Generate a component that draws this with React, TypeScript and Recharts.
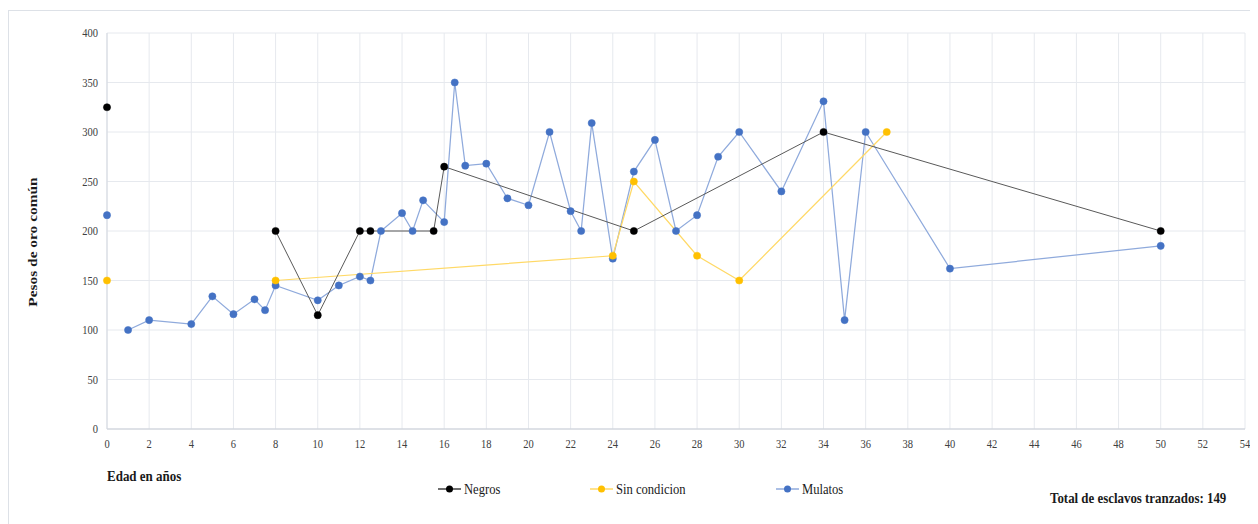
import React from "react";
import { LineChart, Line, XAxis, YAxis, CartesianGrid, Legend } from "recharts";

// Edad en años (x) y pesos de oro común (y); null marks a break in the line
const negros = [
  { edad: 0, pesos: 325 },
  { edad: 0, pesos: null },
  { edad: 8, pesos: 200 },
  { edad: 10, pesos: 115 },
  { edad: 12, pesos: 200 },
  { edad: 12.5, pesos: 200 },
  { edad: 15.5, pesos: 200 },
  { edad: 16, pesos: 265 },
  { edad: 25, pesos: 200 },
  { edad: 34, pesos: 300 },
  { edad: 50, pesos: 200 },
];

const sinCondicion = [
  { edad: 0, pesos: 150 },
  { edad: 0, pesos: null },
  { edad: 8, pesos: 150 },
  { edad: 24, pesos: 175 },
  { edad: 25, pesos: 250 },
  { edad: 28, pesos: 175 },
  { edad: 30, pesos: 150 },
  { edad: 37, pesos: 300 },
];

const mulatos = [
  { edad: 0, pesos: 216 },
  { edad: 0, pesos: null },
  { edad: 1, pesos: 100 },
  { edad: 2, pesos: 110 },
  { edad: 4, pesos: 106 },
  { edad: 5, pesos: 134 },
  { edad: 6, pesos: 116 },
  { edad: 7, pesos: 131 },
  { edad: 7.5, pesos: 120 },
  { edad: 8, pesos: 145 },
  { edad: 10, pesos: 130 },
  { edad: 11, pesos: 145 },
  { edad: 12, pesos: 154 },
  { edad: 12.5, pesos: 150 },
  { edad: 13, pesos: 200 },
  { edad: 14, pesos: 218 },
  { edad: 14.5, pesos: 200 },
  { edad: 15, pesos: 231 },
  { edad: 16, pesos: 209 },
  { edad: 16.5, pesos: 350 },
  { edad: 17, pesos: 266 },
  { edad: 18, pesos: 268 },
  { edad: 19, pesos: 233 },
  { edad: 20, pesos: 226 },
  { edad: 21, pesos: 300 },
  { edad: 22, pesos: 220 },
  { edad: 22.5, pesos: 200 },
  { edad: 23, pesos: 309 },
  { edad: 24, pesos: 172 },
  { edad: 25, pesos: 260 },
  { edad: 26, pesos: 292 },
  { edad: 27, pesos: 200 },
  { edad: 28, pesos: 216 },
  { edad: 29, pesos: 275 },
  { edad: 30, pesos: 300 },
  { edad: 32, pesos: 240 },
  { edad: 34, pesos: 331 },
  { edad: 35, pesos: 110 },
  { edad: 36, pesos: 300 },
  { edad: 40, pesos: 162 },
  { edad: 50, pesos: 185 },
];

const xTicks = [0, 2, 4, 6, 8, 10, 12, 14, 16, 18, 20, 22, 24, 26, 28, 30, 32, 34, 36, 38, 40, 42, 44, 46, 48, 50, 52, 54];
const yTicks = [0, 50, 100, 150, 200, 250, 300, 350, 400];

const xTitle = "Edad en años";
const yTitle = "Pesos de oro común";
const totalNote = "Total de esclavos tranzados: 149";

const SERIF = "Liberation Serif, Times New Roman, serif";
const STRETCH = 1.19;

const legendItems = [
  { name: "Negros", line: "#404040", dot: "#000000", x: 430 },
  { name: "Sin condicion", line: "#FFD966", dot: "#FFC000", x: 582 },
  { name: "Mulatos", line: "#8FAADC", dot: "#4472C4", x: 768 },
];

const LegendContent = () => (
  <svg width={1250} height={24} style={{ display: "block" }}>
    {legendItems.map((it) => (
      <g key={it.name}>
        <line x1={it.x} x2={it.x + 23} y1={12} y2={12} stroke={it.line} strokeWidth={1.5} />
        <circle cx={it.x + 11.5} cy={12} r={3.5} fill={it.dot} />
        <text
          transform={`translate(${it.x + 26},17) scale(1,${STRETCH})`}
          style={{ fontFamily: SERIF, fontSize: 12.6 }}
          fill="#1a1a1a"
        >
          {it.name}
        </text>
      </g>
    ))}
  </svg>
);

const AxisTick = (props: any) => {
  const { x, y, payload, textAnchor, verticalAnchor } = props;
  const dy = verticalAnchor === "start" ? 8 : 4;
  return (
    <text
      transform={`translate(${x},${y + dy}) scale(1,${STRETCH})`}
      textAnchor={textAnchor}
      style={{ fontFamily: SERIF, fontSize: 10.5 }}
      fill="#404040"
    >
      {payload.value}
    </text>
  );
};

export default function App() {
  return (
    <div style={{ position: "relative", width: 1250, height: 516, overflow: "hidden", background: "#fff", fontFamily: SERIF }}>
      <div
        style={{
          position: "absolute",
          left: 0,
          top: 2,
          width: 1270,
          height: 540,
          border: "1px solid #dde1e7",
          boxSizing: "border-box",
        }}
      />
      <LineChart
        width={1250}
        height={516}
        margin={{ top: 25, right: 13, bottom: 65, left: 0 }}
        style={{ position: "absolute", left: 0, top: 0 }}
      >
        <CartesianGrid stroke="#e6e9ee" strokeWidth={1} />
        <XAxis
          type="number"
          dataKey="edad"
          domain={[0, 54]}
          ticks={xTicks}
          interval={0}
          height={30}
          tickLine={false}
          tickMargin={5}
          axisLine={{ stroke: "#c9ced6" }}
          tick={<AxisTick />}
          allowDuplicatedCategory={false}
        />
        <YAxis
          type="number"
          domain={[0, 400]}
          ticks={yTicks}
          interval={0}
          width={99}
          tickLine={false}
          tickMargin={3}
          axisLine={{ stroke: "#d3d8df" }}
          tick={<AxisTick />}
        />
        <Legend
          layout="horizontal"
          verticalAlign="middle"
          align="center"
          content={<LegendContent />}
          wrapperStyle={{ left: 0, top: 469, width: 1250, height: 24 }}
        />
        <Line
          data={mulatos}
          dataKey="pesos"
          name="Mulatos"
          stroke="#8FAADC"
          strokeWidth={1.25}
          dot={{ r: 3.6, fill: "#4472C4", stroke: "#4472C4", strokeWidth: 0.5 }}
          activeDot={false}
          isAnimationActive={false}
        />
        <Line
          data={sinCondicion}
          dataKey="pesos"
          name="Sin condicion"
          stroke="#FFD966"
          strokeWidth={1.25}
          dot={{ r: 3.6, fill: "#FFC000", stroke: "#FFC000", strokeWidth: 0.5 }}
          activeDot={false}
          isAnimationActive={false}
        />
        <Line
          data={negros}
          dataKey="pesos"
          name="Negros"
          stroke="#595959"
          strokeWidth={1}
          dot={{ r: 3.6, fill: "#000000", stroke: "#000000", strokeWidth: 0.5 }}
          activeDot={false}
          isAnimationActive={false}
        />
      </LineChart>
      <svg
        width={1250}
        height={516}
        style={{ position: "absolute", left: 0, top: 0, pointerEvents: "none" }}
      >
        <text
          transform="translate(29,234) rotate(-90) scale(1,0.84)"
          textAnchor="middle"
          style={{ fontFamily: SERIF, fontWeight: "bold", fontSize: 15.4 }}
          fill="#1a1a1a"
        >
          {yTitle}
        </text>
        <text
          transform={`translate(99,472.5) scale(1,${STRETCH})`}
          style={{ fontFamily: SERIF, fontWeight: "bold", fontSize: 13 }}
          fill="#1a1a1a"
        >
          {xTitle}
        </text>
        <text
          transform={`translate(1042,494.5) scale(1,${STRETCH})`}
          style={{ fontFamily: SERIF, fontWeight: "bold", fontSize: 12.9 }}
          fill="#1a1a1a"
        >
          {totalNote}
        </text>
      </svg>
    </div>
  );
}
